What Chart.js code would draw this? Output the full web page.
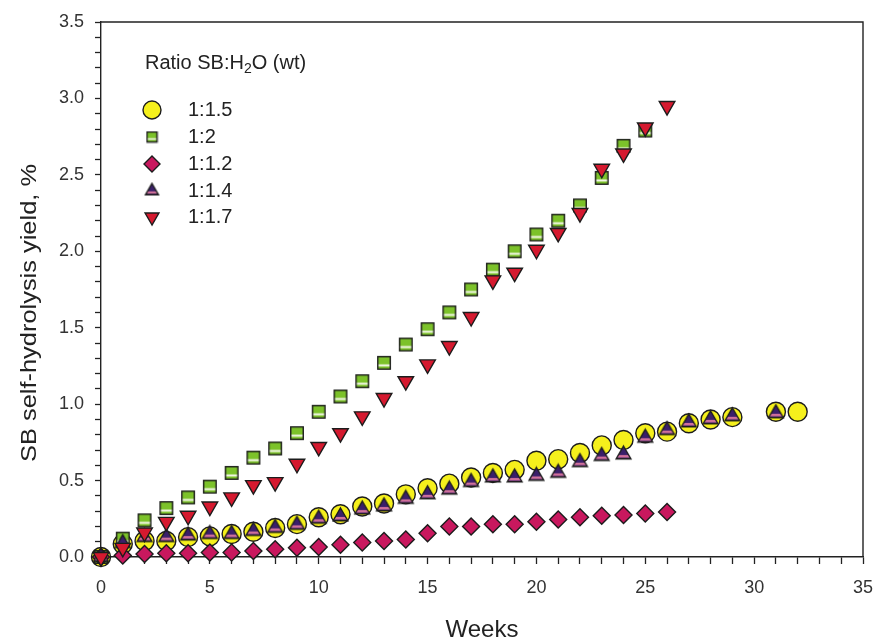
<!DOCTYPE html>
<html>
<head>
<meta charset="utf-8">
<script src="https://cdn.jsdelivr.net/npm/chart.js@4"></script>
<style>
  html, body { margin: 0; padding: 0; background: #fff; }
  #wrap { width: 875px; height: 642px; }
</style>
</head>
<body>
<div id="wrap"><canvas id="yieldChart" width="875" height="642"></canvas></div>
<script>
// weeks and yields (%)
const weeks_1_5 = [0,1,2,3,4,5,6,7,8,9,10,11,12,13,14,15,16,17,18,19,20,21,22,23,24,25,26,27,28,29,31,32];
const yield_1_5 = [0,0.085,0.105,0.105,0.13,0.135,0.15,0.165,0.19,0.215,0.26,0.28,0.33,0.35,0.41,0.45,0.48,0.52,0.55,0.57,0.63,0.64,0.68,0.73,0.765,0.81,0.82,0.875,0.9,0.915,0.95,0.95];

const weeks_1_2 = [0,1,2,3,4,5,6,7,8,9,10,11,12,13,14,15,16,17,18,19,20,21,22,23,24,25];
const yield_1_2 = [0,0.12,0.24,0.32,0.39,0.46,0.55,0.65,0.71,0.81,0.95,1.05,1.15,1.27,1.39,1.49,1.6,1.75,1.88,2.0,2.11,2.2,2.3,2.48,2.69,2.79];

const weeks_1_1_2 = [0,1,2,3,4,5,6,7,8,9,10,11,12,13,14,15,16,17,18,19,20,21,22,23,24,25,26];
const yield_1_1_2 = [0,0.01,0.02,0.025,0.025,0.03,0.03,0.04,0.05,0.06,0.065,0.08,0.095,0.105,0.115,0.155,0.2,0.2,0.215,0.215,0.23,0.245,0.26,0.27,0.275,0.285,0.295];

const weeks_1_1_4 = [0,1,2,3,4,5,6,7,8,9,10,11,12,13,14,15,16,17,18,19,20,21,22,23,24,25,26,27,28,29,31];
const yield_1_1_4 = [0,0.09,0.13,0.13,0.14,0.15,0.15,0.17,0.19,0.21,0.25,0.265,0.31,0.33,0.38,0.41,0.44,0.49,0.52,0.52,0.53,0.55,0.62,0.66,0.67,0.78,0.83,0.88,0.9,0.92,0.94];

const weeks_1_1_7 = [0,1,2,3,4,5,6,7,8,9,10,11,12,13,14,15,16,17,18,19,20,21,22,23,24,25,26];
const yield_1_1_7 = [0,0.06,0.16,0.23,0.27,0.33,0.39,0.47,0.49,0.61,0.72,0.81,0.92,1.04,1.15,1.26,1.38,1.57,1.81,1.86,2.01,2.12,2.25,2.54,2.64,2.81,2.95];

const seriesLabels = ['1:1.5', '1:2', '1:1.2', '1:1.4', '1:1.7'];
const xTicks = [0, 5, 10, 15, 20, 25, 30, 35];

const FONT = "'Liberation Sans', Arial, Helvetica, sans-serif";
const EDGE = '#1c1c1c';

function toPoints(xs, ys) {
    return xs.map((w, i) => ({ x: w, y: ys[i] }));
}

// small canvases for the two markers that have a lighter band near the bottom
function squareMarker(side) {
    const c = document.createElement('canvas');
    const s = Math.ceil(side + 3);
    c.width = s; c.height = s;
    const g = c.getContext('2d');
    const o = (s - side) / 2;
    g.fillStyle = '#7cc22a';
    g.fillRect(o, o, side, side);
    g.fillStyle = '#f4f8e8';
    g.fillRect(o, o + side * 0.62, side, side * 0.16);
    g.strokeStyle = EDGE;
    g.lineWidth = 1.4;
    g.strokeRect(o, o, side, side);
    return c;
}

function triangleMarker(r) {
    const c = document.createElement('canvas');
    const s = Math.ceil(2 * r + 4);
    c.width = s; c.height = s;
    const g = c.getContext('2d');
    const cx = s / 2, cy = s / 2;
    const hw = r * Math.sin(Math.PI / 3);
    g.beginPath();
    g.moveTo(cx, cy - r);
    g.lineTo(cx + hw, cy + r / 2);
    g.lineTo(cx - hw, cy + r / 2);
    g.closePath();
    g.fillStyle = '#3a1f6a';
    g.fill();
    g.save();
    g.clip();
    g.fillStyle = '#d0709a';
    g.fillRect(0, cy + r * 0.05, s, r * 0.3);
    g.restore();
    g.strokeStyle = EDGE;
    g.lineWidth = 1.4;
    g.stroke();
    return c;
}

const datasets = [
    { label: seriesLabels[0], data: toPoints(weeks_1_5, yield_1_5), pointStyle: 'circle', pointRadius: 9.5,
      backgroundColor: '#f5f01c', borderColor: EDGE, order: 5, legendRadius: 9 },
    { label: seriesLabels[1], data: toPoints(weeks_1_2, yield_1_2), pointStyle: squareMarker(12.5), pointRadius: 9,
      backgroundColor: '#7cc22a', borderColor: EDGE, order: 4, legendStyle: squareMarker(10) },
    { label: seriesLabels[2], data: toPoints(weeks_1_1_2, yield_1_1_2), pointStyle: 'rectRot', pointRadius: 8.5,
      backgroundColor: '#c8185e', borderColor: EDGE, order: 3, legendRadius: 8 },
    { label: seriesLabels[3], data: toPoints(weeks_1_1_4, yield_1_1_4), pointStyle: triangleMarker(8.5), pointRadius: 8,
      backgroundColor: '#3a1f6a', borderColor: EDGE, order: 2, legendStyle: triangleMarker(7.5) },
    { label: seriesLabels[4], data: toPoints(weeks_1_1_7, yield_1_1_7), pointStyle: 'triangle', pointRotation: 180, pointRadius: 9,
      backgroundColor: '#d5192f', borderColor: EDGE, order: 1, legendRadius: 8 }
];
datasets.forEach(d => { d.borderWidth = 1.4; d.clip = false; d.showLine = false; });

// box around the plot (top + right edges)
const framePlugin = {
    id: 'frame',
    beforeDatasetsDraw(chart) {
        const { ctx, chartArea: a } = chart;
        ctx.save();
        ctx.strokeStyle = '#222';
        ctx.lineWidth = 1.4;
        ctx.beginPath();
        ctx.moveTo(a.left, a.top);
        ctx.lineTo(a.right, a.top);
        ctx.lineTo(a.right, a.bottom);
        ctx.stroke();
        ctx.restore();
    }
};

// y title drawn by hand so it can sit where the original has it
const yTitle = {
    id: 'yTitle',
    afterDraw(chart) {
        const ctx = chart.ctx;
        const text = 'SB self-hydrolysis yield, %';
        ctx.save();
        ctx.font = '22px ' + FONT;
        const w = ctx.measureText(text).width;
        const want = 298;
        ctx.translate(30, 313);
        ctx.rotate(-Math.PI / 2);
        ctx.scale(want / w, 1);
        ctx.fillStyle = '#222';
        ctx.textAlign = 'center';
        ctx.textBaseline = 'middle';
        ctx.fillText(text, 0, 0);
        ctx.restore();
    }
};

// legend inside the plot, with subscript in the title
const boxLegend = {
    id: 'boxLegend',
    afterDraw(chart) {
        const ctx = chart.ctx;
        ctx.save();
        ctx.fillStyle = '#222';
        ctx.textBaseline = 'middle';
        ctx.textAlign = 'left';
        let x = 145, y = 63;
        ctx.font = '20px ' + FONT;
        ctx.fillText('Ratio SB:H', x, y);
        x += ctx.measureText('Ratio SB:H').width;
        ctx.font = '14px ' + FONT;
        ctx.fillText('2', x, y + 6);
        x += ctx.measureText('2').width;
        ctx.font = '20px ' + FONT;
        ctx.fillText('O (wt)', x, y);

        const rows = [110, 137, 164, 191, 217];
        chart.data.datasets.forEach((d, i) => {
            ctx.fillStyle = d.backgroundColor;
            ctx.strokeStyle = d.borderColor;
            ctx.lineWidth = 1.4;
            Chart.helpers.drawPoint(ctx, {
                pointStyle: d.legendStyle || d.pointStyle,
                radius: d.legendRadius || 8,
                rotation: d.pointRotation || 0,
                borderWidth: 1.4
            }, 152, rows[i]);
            ctx.fillStyle = '#222';
            ctx.font = '20px ' + FONT;
            ctx.fillText(d.label, 188, rows[i]);
        });
        ctx.restore();
    }
};

new Chart(document.getElementById('yieldChart').getContext('2d'), {
    type: 'scatter',
    data: { datasets: datasets },
    options: {
        responsive: false,
        animation: false,
        layout: { padding: { top: 22, right: 12, left: 0, bottom: 0 } },
        plugins: {
            legend: { display: false },
            tooltip: { enabled: false }
        },
        scales: {
            x: {
                type: 'linear',
                min: 0, max: 35,
                afterFit(axis) { axis.height = 85; axis.paddingLeft = 0; axis.paddingRight = 0; },
                grid: { drawOnChartArea: false, tickLength: 7, tickColor: '#222', tickWidth: 1.3 },
                border: { color: '#222', width: 1.4 },
                ticks: {
                    stepSize: 1, autoSkip: false, maxRotation: 0, padding: 13,
                    color: '#333',
                    font: { family: FONT, size: 18 },
                    callback: v => xTicks.includes(v) ? String(v) : ''
                },
                title: {
                    display: true, text: 'Weeks', color: '#222',
                    font: { family: FONT, size: 24, lineHeight: 1 },
                    padding: { top: 0, bottom: 0 }
                }
            },
            y: {
                type: 'linear',
                min: 0, max: 3.5,
                afterFit(axis) { axis.width = 101; axis.paddingTop = 0; axis.paddingBottom = 0; },
                grid: { drawOnChartArea: false, tickLength: 6, tickColor: '#222', tickWidth: 1.3 },
                border: { color: '#222', width: 1.4 },
                ticks: {
                    stepSize: 0.1, autoSkip: false, padding: 11,
                    color: '#333',
                    font: { family: FONT, size: 18 },
                    callback: v => (Math.round(v * 10) % 5 === 0) ? (Math.round(v * 10) / 10).toFixed(1) : ''
                },
                title: { display: false }
            }
        }
    },
    plugins: [framePlugin, yTitle, boxLegend]
});
</script>
</body>
</html>
